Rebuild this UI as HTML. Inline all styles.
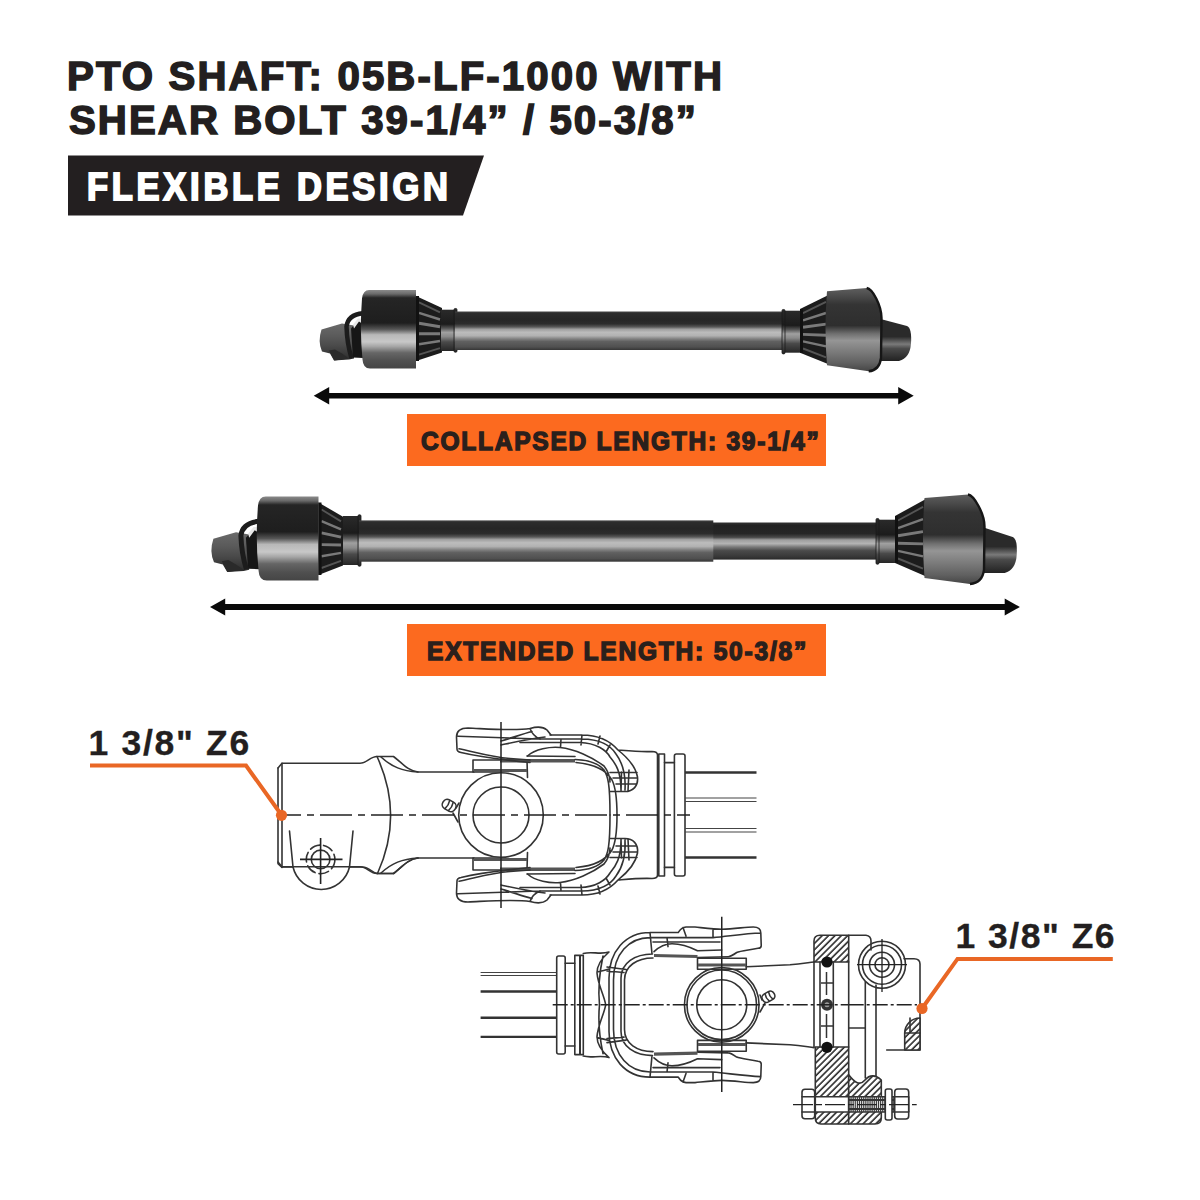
<!DOCTYPE html>
<html><head><meta charset="utf-8">
<style>
html,body{margin:0;padding:0;background:#fff;}
body{width:1200px;height:1200px;position:relative;overflow:hidden;font-family:"Liberation Sans",sans-serif;}
.t{position:absolute;white-space:nowrap;font-weight:bold;color:#231f20;line-height:1;}
#h1{left:67px;top:56.5px;font-size:40.2px;letter-spacing:2.12px;-webkit-text-stroke:1.5px #231f20;}
#h2{left:69px;top:101px;font-size:40.2px;letter-spacing:2.07px;-webkit-text-stroke:1.5px #231f20;}
#btext{left:86.5px;top:166.5px;font-size:39.19px;letter-spacing:4.26px;color:#fff;-webkit-text-stroke:2px #fff;transform:scaleX(0.88);transform-origin:0 0;}
.lab{position:absolute;background:#fc6a1f;}
.lt{color:#2a201c;font-size:25.31px;-webkit-text-stroke:1.4px #2a201c;transform:scaleX(0.97);transform-origin:0 0;}
.zt{font-size:35.5px;-webkit-text-stroke:0.3px #231f20;}
svg{position:absolute;left:0;top:0;}
</style></head><body>
<svg width="1200" height="1200" viewBox="0 0 1200 1200"><defs>
<linearGradient id="gTube" x1="0" y1="0" x2="0" y2="1">
 <stop offset="0" stop-color="#444"/><stop offset="0.05" stop-color="#2c2c2c"/>
 <stop offset="0.2" stop-color="#262626"/><stop offset="0.32" stop-color="#2c2c2c"/>
 <stop offset="0.4" stop-color="#585858"/><stop offset="0.46" stop-color="#9e9e9e"/>
 <stop offset="0.54" stop-color="#bcbcbc"/><stop offset="0.63" stop-color="#b2b2b2"/>
 <stop offset="0.71" stop-color="#828282"/><stop offset="0.78" stop-color="#606060"/>
 <stop offset="0.92" stop-color="#505050"/><stop offset="1" stop-color="#363636"/>
</linearGradient>
<linearGradient id="gTube2" x1="0" y1="0" x2="0" y2="1">
 <stop offset="0" stop-color="#333"/><stop offset="0.08" stop-color="#222"/>
 <stop offset="0.3" stop-color="#262626"/><stop offset="0.4" stop-color="#4a4a4a"/>
 <stop offset="0.47" stop-color="#9e9e9e"/><stop offset="0.57" stop-color="#b4b4b4"/>
 <stop offset="0.66" stop-color="#7a7a7a"/><stop offset="0.76" stop-color="#4a4a4a"/>
 <stop offset="0.9" stop-color="#3a3a3a"/><stop offset="1" stop-color="#2a2a2a"/>
</linearGradient>
<linearGradient id="gBell" x1="0" y1="0" x2="0" y2="1">
 <stop offset="0" stop-color="#8a8a8a"/><stop offset="0.05" stop-color="#6a6a6a"/>
 <stop offset="0.1" stop-color="#252525"/><stop offset="0.42" stop-color="#1e1e1e"/>
 <stop offset="0.5" stop-color="#555"/><stop offset="0.57" stop-color="#b8b8b8"/>
 <stop offset="0.66" stop-color="#c8c8c8"/><stop offset="0.72" stop-color="#a5a5a5"/>
 <stop offset="0.8" stop-color="#666"/><stop offset="0.9" stop-color="#505050"/>
 <stop offset="1" stop-color="#454545"/>
</linearGradient>
<linearGradient id="gBellR" x1="0" y1="0" x2="0" y2="1">
 <stop offset="0" stop-color="#5e5e5e"/><stop offset="0.1" stop-color="#4a4a4a"/>
 <stop offset="0.2" stop-color="#343434"/><stop offset="0.45" stop-color="#2e2e2e"/>
 <stop offset="0.55" stop-color="#707070"/><stop offset="0.63" stop-color="#959595"/>
 <stop offset="0.75" stop-color="#7e7e7e"/><stop offset="0.9" stop-color="#606060"/>
 <stop offset="1" stop-color="#454545"/>
</linearGradient>
<linearGradient id="gCone" x1="0" y1="0" x2="0" y2="1">
 <stop offset="0" stop-color="#1e1e1e"/><stop offset="0.4" stop-color="#262626"/>
 <stop offset="0.6" stop-color="#3a3a3a"/><stop offset="1" stop-color="#1e1e1e"/>
</linearGradient>
<linearGradient id="gCollar" x1="0" y1="0" x2="0" y2="1">
 <stop offset="0" stop-color="#2a2a2a"/><stop offset="0.35" stop-color="#1c1c1c"/>
 <stop offset="0.45" stop-color="#555"/><stop offset="0.55" stop-color="#a0a0a0"/>
 <stop offset="0.65" stop-color="#8a8a8a"/><stop offset="0.78" stop-color="#4a4a4a"/>
 <stop offset="1" stop-color="#262626"/>
</linearGradient>
<linearGradient id="gStub" x1="0" y1="0" x2="0" y2="1">
 <stop offset="0" stop-color="#6a6a6a"/><stop offset="0.35" stop-color="#5a5a5a"/>
 <stop offset="0.6" stop-color="#4a4a4a"/><stop offset="1" stop-color="#2a2a2a"/>
</linearGradient>
<linearGradient id="gStubR" x1="0" y1="0" x2="0" y2="1">
 <stop offset="0" stop-color="#2a2a2a"/><stop offset="0.45" stop-color="#2a2a2a"/>
 <stop offset="0.62" stop-color="#7a7a7a"/><stop offset="0.72" stop-color="#4a4a4a"/>
 <stop offset="1" stop-color="#222"/>
</linearGradient>

<pattern id="hatch" patternUnits="userSpaceOnUse" width="4.5" height="4.5" patternTransform="rotate(45)">
  <rect width="4.5" height="4.5" fill="#fff"/><line x1="1" y1="0" x2="1" y2="4.5" stroke="#2a2a2a" stroke-width="1.6"/>
</pattern>
</defs><polygon points="68,155.5 484,155.5 463,215.5 68,215.5" fill="#231f20"/><path d="M313.7,395.8 L329.2,387.0 L329.2,393.1 L898.2,393.1 L898.2,387.0 L913.7,395.8 L898.2,404.6 L898.2,398.5 L329.2,398.5 L329.2,404.6 Z" fill="#0a0a0a"/><path d="M210,607 L225.2,598.5 L225.2,604.1 L1004.6999999999999,604.1 L1004.6999999999999,598.5 L1019.9,607 L1004.6999999999999,615.5 L1004.6999999999999,609.9 L225.2,609.9 L225.2,615.5 Z" fill="#0a0a0a"/><path d="M321.5,329.5 Q317.5,341.5 322,351.5 L330,353.5 L334,360.6 L349,359.5 L354,358.5 L354,325.5 L342,323.5 Z" fill="url(#gStub)"/><path d="M329,350.5 L334.4,360.6 L349,358.5 L342,353.5 L335,349.5 Z" fill="#2a2a2a"/><path d="M351,328.5 L358,320.5 L363,320.5 L363,358 L353,357.5 Z" fill="#161616"/><path d="M353,324.5 L358,318.5 L362,318.5 L362,323.5 L359,321.5 L354,328.5 Z" fill="#e8e8e8"/><path d="M363,313.2 Q348,314.5 346.5,326.5 Q347,343.5 351.5,358" stroke="#1c1c1c" stroke-width="4.5" fill="none"/><path d="M369,290 L416,290 L416,368.5 L370,368.5 Q363,368.5 362.5,359.5 Q359.5,329.5 362,298.5 Q363,290 369,290 Z" fill="url(#gBell)"/><path d="M416,296 L442,308 L442,352.5 L416,361 Z" fill="#1c1c1c"/><path d="M419,302.3 L440,312.3" stroke="#555" stroke-width="1.9"/><path d="M419,312.8 L440,319.5" stroke="#7a7a7a" stroke-width="2.4"/><path d="M419,323.3 L440,326.7" stroke="#7a7a7a" stroke-width="2.9"/><path d="M419,333.7 L440,333.8" stroke="#7a7a7a" stroke-width="2.9"/><path d="M419,344.2 L440,341" stroke="#7a7a7a" stroke-width="2.4"/><path d="M419,354.7 L440,348.2" stroke="#555" stroke-width="1.9"/><path d="M417.5,296 L417.5,361" stroke="#111" stroke-width="3"/><rect x="441" y="309.7" width="15" height="41.3" fill="url(#gCollar)"/><rect x="454" y="308.5" width="3" height="43.7" rx="1.2" fill="url(#gCollar)" stroke="#1a1a1a" stroke-width="0.8"/><rect x="455" y="311.5" width="330" height="38.5" fill="url(#gTube)"/><rect x="783" y="310.7" width="17" height="42" fill="url(#gCollar)"/><rect x="782" y="309.5" width="3" height="44.4" rx="1.2" fill="url(#gCollar)" stroke="#1a1a1a" stroke-width="0.8"/><path d="M872,316.7 L907,326 Q912,328 911,343.5 Q910,358 899,361 L872,361 Z" fill="url(#gStubR)"/><path d="M872,321.1 L880,330 L878,349.9 L872,356.6 Z" fill="#141414"/><path d="M800,309 L828,295.3 L828,364 L800,352.7 Z" fill="#1c1c1c"/><path d="M803,313.2 L826,301.9" stroke="#555" stroke-width="1.9"/><path d="M803,320.3 L826,313" stroke="#7a7a7a" stroke-width="2.4"/><path d="M803,327.3 L826,324.1" stroke="#7a7a7a" stroke-width="2.9"/><path d="M803,334.4 L826,335.2" stroke="#7a7a7a" stroke-width="2.9"/><path d="M803,341.4 L826,346.3" stroke="#7a7a7a" stroke-width="2.4"/><path d="M803,348.5 L826,357.4" stroke="#555" stroke-width="1.9"/><path d="M801.5,309 L801.5,352.7" stroke="#111" stroke-width="3"/><path d="M827,291.3 L866.7,288 C872.7,289 881.5,305.5 881.5,318 L881,358 Q879.5,370.3 868.7,371.3 L827,365.3 Q824,328.3 827,291.3 Z" fill="url(#gBellR)"/><path d="M866.7,288 C872.7,289 881.5,305.5 881.5,318 L881,358 Q879.5,370.3 868.7,371.3" stroke="#161616" stroke-width="2.4" fill="none"/><path d="M213.4,538.8 Q209.1,551.6 214,562.3 L222.8,564.4 L227.2,572 L243.7,570.9 L249.2,569.8 L249.2,534.5 L236,532.3 Z" fill="url(#gStub)"/><path d="M221.7,561.2 L227.6,572 L243.7,569.8 L236,564.4 L228.3,560.1 Z" fill="#2a2a2a"/><path d="M245.9,537.7 L253.6,529.1 L259.1,529.1 L259.1,569.2 L248.1,568.7 Z" fill="#161616"/><path d="M248.1,533.4 L253.6,527 L258,527 L258,532.3 L254.7,530.2 L249.2,537.7 Z" fill="#e8e8e8"/><path d="M259.1,521.3 Q242.6,522.7 240.9,535.5 Q241.5,553.7 246.4,569.2" stroke="#1c1c1c" stroke-width="5" fill="none"/><path d="M265.7,496.5 L318.5,496.5 L318.5,580.5 L266.8,580.5 Q259.1,580.5 258.6,570.9 Q255.2,538.8 258,505.6 Q259.1,496.5 265.7,496.5 Z" fill="url(#gBell)"/><path d="M318.5,502.5 L343,516.7 L343,565.5 L318.5,575 Z" fill="#1c1c1c"/><path d="M321.5,509.5 L341,521.4" stroke="#555" stroke-width="1.9"/><path d="M321.5,521.2 L341,529.3" stroke="#7a7a7a" stroke-width="2.4"/><path d="M321.5,532.9 L341,537.2" stroke="#7a7a7a" stroke-width="2.9"/><path d="M321.5,544.6 L341,545" stroke="#7a7a7a" stroke-width="2.9"/><path d="M321.5,556.3 L341,552.9" stroke="#7a7a7a" stroke-width="2.4"/><path d="M321.5,568 L341,560.8" stroke="#555" stroke-width="1.9"/><path d="M320,502.5 L320,575" stroke="#111" stroke-width="3"/><rect x="343" y="516" width="17" height="49" fill="url(#gCollar)"/><rect x="358" y="514.8" width="3" height="51.4" rx="1.2" fill="url(#gCollar)" stroke="#1a1a1a" stroke-width="0.8"/><rect x="713" y="522.5" width="165" height="37.1" fill="url(#gTube2)"/><rect x="359" y="520.4" width="354.3" height="41.3" fill="url(#gTube)"/><rect x="877" y="519.7" width="18" height="43.3" fill="url(#gCollar)"/><rect x="876" y="518.5" width="3" height="45.7" rx="1.2" fill="url(#gCollar)" stroke="#1a1a1a" stroke-width="0.8"/><path d="M976,525 L1012.7,537 Q1017.7,539 1016.7,555 Q1015.7,570 1004.7,573 L976,573 Z" fill="url(#gStubR)"/><path d="M976,529.8 L984,539.4 L982,561 L976,568.2 Z" fill="#141414"/><path d="M895,516 L925,499.5 L925,576 L895,563 Z" fill="#1c1c1c"/><path d="M898,520.5 L923,506.9" stroke="#555" stroke-width="1.9"/><path d="M898,528.1 L923,519.2" stroke="#7a7a7a" stroke-width="2.4"/><path d="M898,535.7 L923,531.6" stroke="#7a7a7a" stroke-width="2.9"/><path d="M898,543.3 L923,543.9" stroke="#7a7a7a" stroke-width="2.9"/><path d="M898,550.9 L923,556.3" stroke="#7a7a7a" stroke-width="2.4"/><path d="M898,558.5 L923,568.6" stroke="#555" stroke-width="1.9"/><path d="M896.5,516 L896.5,563" stroke="#111" stroke-width="3"/><path d="M924.5,498 L968,494.5 C974,495.5 984.5,513.3 984.5,526.7 L984,569.7 Q982.5,583 970,584 L924.5,578 Q921.5,538 924.5,498 Z" fill="url(#gBellR)"/><path d="M968,494.5 C974,495.5 984.5,513.3 984.5,526.7 L984,569.7 Q982.5,583 970,584" stroke="#161616" stroke-width="2.4" fill="none"/><g><path d="M278,768 L282,763.3 L360,763.3 C367,763.3 370,756.5 377,756.5 L393.5,756.5 C402,763 408,771 418,772 L474,772" stroke="#333" stroke-width="1.6" fill="none" stroke-linecap="round" stroke-linejoin="round" /><path d="M 278,862 L 282,866.7 L 360,866.7 C 367,866.7 370,873.5 377,873.5 L 393.5,873.5 C 402,867 408,859 418,858 L 474,858" stroke="#333" stroke-width="1.6" fill="none" stroke-linecap="round" stroke-linejoin="round" /><path d="M278,768 L278,863.7 L282,867.5" stroke="#333" stroke-width="1.6" fill="none" stroke-linecap="round" stroke-linejoin="round" /><path d="M282,763.3 L282,867" stroke="#333" stroke-width="1.6" fill="none" stroke-linecap="round" stroke-linejoin="round" /><path d="M377,756.5 Q404,815 377.5,873.5" stroke="#333" stroke-width="1.6" fill="none" stroke-linecap="round" stroke-linejoin="round" /><path d="M381,757 C392,767 402,771 418,772" stroke="#333" stroke-width="1.6" fill="none" stroke-linecap="round" stroke-linejoin="round" /><path d="M381,873 C392,863 402,859 418,858" stroke="#333" stroke-width="1.6" fill="none" stroke-linecap="round" stroke-linejoin="round" /><path d="M289.5,831 L293,867" stroke="#333" stroke-width="1.6" fill="none" stroke-linecap="round" stroke-linejoin="round" /><path d="M353,831 L349.5,867" stroke="#333" stroke-width="1.6" fill="none" stroke-linecap="round" stroke-linejoin="round" /><path d="M293,867 A29,29 0 0 0 349.5,867" stroke="#333" stroke-width="1.6" fill="none" stroke-linecap="round" stroke-linejoin="round" /><path d="M282,867 L293,867" stroke="#333" stroke-width="1.6" fill="none" stroke-linecap="round" stroke-linejoin="round" /><path d="M349.5,867 L362.5,867 C370,867 372,873.5 377.5,873.5 L393.7,873.5" stroke="#333" stroke-width="1.6" fill="none" stroke-linecap="round" stroke-linejoin="round" /><path d="M393.7,873.5 C402,867 408,859 418,858" stroke="#333" stroke-width="1.6" fill="none" stroke-linecap="round" stroke-linejoin="round" /><circle cx="320.6" cy="859.4" r="9.3" stroke="#333" stroke-width="1.6" fill="none" stroke-linecap="round" stroke-linejoin="round"/><circle cx="320.6" cy="859.4" r="14.3" stroke="#333" stroke-width="1.6" fill="none" stroke-linecap="round" stroke-linejoin="round" stroke-dasharray="10,4"/><path d="M300,859.4 L342.5,859.4 M320.6,838 L320.6,884" stroke="#222" stroke-width="1.6"/><circle cx="501" cy="815" r="42.3" stroke="#333" stroke-width="1.6" fill="none" stroke-linecap="round" stroke-linejoin="round"/><circle cx="501" cy="815" r="28" stroke="#333" stroke-width="1.6" fill="none" stroke-linecap="round" stroke-linejoin="round"/><g transform="translate(450,806) rotate(30)"><rect x="-8" y="-5" width="14" height="10" rx="4.5" stroke="#333" stroke-width="1.6" fill="none" stroke-linecap="round" stroke-linejoin="round"/><path d="M-3,-4.5 Q-1.5,0 -3,4.5 M1,-4.5 Q2.5,0 1,4.5" stroke="#333" stroke-width="1.6" fill="none" stroke-linecap="round" stroke-linejoin="round"/></g><path d="M453,813 L458,822 M456,808 L459,803" stroke="#333" stroke-width="1.6" fill="none" stroke-linecap="round" stroke-linejoin="round" /><path d="M473,772 L473,760 L527,760 L527.5,777.5 M473,772 L500,772" stroke="#333" stroke-width="1.6" fill="none" stroke-linecap="round" stroke-linejoin="round" /><path d="M 473,858 L 473,870 L 527,870 L 527.5,852.5 M 473,858 L 500,858" stroke="#333" stroke-width="1.6" fill="none" stroke-linecap="round" stroke-linejoin="round" /><path d="M474,770.5 L527,770.5 M474,859.5 L527,859.5" stroke="#555" stroke-width="3"/><path d="M500,760.8 L575,760.8 M500,869.2 L575,869.2" stroke="#555" stroke-width="3.5"/><path d="M551,735 L547,730 C543,726.5 537,726.5 530,728.5 C515,731 490,729 468,728 C460,728 456.5,731 456.5,737 L457,749 C457,751 458,752 461,752.5 C480,757 505,760 530,762.5 M458,736.3 C480,737 510,738 540,739 M459,748.8 C475,752 490,757 510,758.5 L530,760 M530,728.5 C532,734 535,737 540,739 M501,741 C512,738 522,734 532,731.5 M501,745 C515,742 528,739 545,737 M527,756 L575,756.5 " stroke="#333" stroke-width="1.6" fill="none" stroke-linecap="round" stroke-linejoin="round" /><path d="M 551,895 L 547,900 C 543,903.5 537,903.5 530,901.5 C 515,899 490,901 468,902 C 460,902 456.5,899 456.5,893 L 457,881 C 457,879 458,878 461,877.5 C 480,873 505,870 530,867.5 M 458,893.7 C 480,893 510,892 540,891 M 459,881.2 C 475,878 490,873 510,871.5 L 530,870 M 530,901.5 C 532,896 535,893 540,891 M 501,889 C 512,892 522,896 532,898.5 M 501,885 C 515,888 528,891 545,893 M 527,874 L 575,873.5" stroke="#333" stroke-width="1.6" fill="none" stroke-linecap="round" stroke-linejoin="round" /><path d="M550,735 L582,735 C600,735 611,742 618,750 C628,758 636,768 637.5,777 C638.5,786 633,791.5 625,791.5 L610,791.5 M540,739 L582,739 C600,739 611,746 616,754 C622,762 626,772 625,790 M520,742.5 L580,742.5 C596,743 606,750 610,757 C616,764 621,772 621,790 M527.5,756 C535,749 550,746.5 560,747.5 C575,749 592,757 604,766 C608,771 610,777 610,782 M575,759.5 C590,760 599,764 604,770 C608,776 610,784 610,815 M576,762.5 C594,764 606,770 612,780 C616,788 617,800 617,815 M618,750 C630,751 640,752 652,751.5 C655,751.5 657.5,752 657.5,755 L657.5,815 M610,772.5 L637,772.5 M613,778 L637.5,778 M616,784 L636,784 M621.5,772 L621,791 M629,770 L628,791 M582,735 L581,745 M561,739 L560.5,747.5 M600,736 L598,744 M606,752 L610,745 " stroke="#333" stroke-width="1.6" fill="none" stroke-linecap="round" stroke-linejoin="round" /><path d="M 550,895 L 582,895 C 600,895 611,888 618,880 C 628,872 636,862 637.5,853 C 638.5,844 633,838.5 625,838.5 L 610,838.5 M 540,891 L 582,891 C 600,891 611,884 616,876 C 622,868 626,858 625,840 M 520,887.5 L 580,887.5 C 596,887 606,880 610,873 C 616,866 621,858 621,840 M 527.5,874 C 535,881 550,883.5 560,882.5 C 575,881 592,873 604,864 C 608,859 610,853 610,848 M 575,870.5 C 590,870 599,866 604,860 C 608,854 610,846 610,815 M 576,867.5 C 594,866 606,860 612,850 C 616,842 617,830 617,815 M 618,880 C 630,879 640,878 652,878.5 C 655,878.5 657.5,878 657.5,875 L 657.5,815 M 610,857.5 L 637,857.5 M 613,852 L 637.5,852 M 616,846 L 636,846 M 621.5,858 L 621,839 M 629,860 L 628,839 M 582,895 L 581,885 M 561,891 L 560.5,882.5 M 600,894 L 598,886 M 606,878 L 610,885" stroke="#333" stroke-width="1.6" fill="none" stroke-linecap="round" stroke-linejoin="round" /><path d="M658.8,754 L664.5,754 L664.5,876 L658.8,876 Z" stroke="#333" stroke-width="1.6" fill="none" stroke-linecap="round" stroke-linejoin="round" /><path d="M664.5,762.6 L674.4,762.6 M664.5,867.4 L674.4,867.4" stroke="#333" stroke-width="1.6" fill="none" stroke-linecap="round" stroke-linejoin="round" /><rect x="674.4" y="754" width="10.6" height="122" rx="2" stroke="#333" stroke-width="1.6" fill="none" stroke-linecap="round" stroke-linejoin="round"/><path d="M685,772.5 L756.5,772.5 M685,857.5 L756.5,857.5" stroke="#333" stroke-width="2.4"/><path d="M685,798 L756.5,798 M685,801.5 L756.5,801.5 M685,828.5 L756.5,828.5 M685,832 L756.5,832" stroke="#444" stroke-width="1.2"/><path d="M286,815 L690,815" stroke="#222" stroke-width="1.4" fill="none" stroke-dasharray="32,6,7,6" stroke-dashoffset="17"/><path d="M501,722 L501,908" stroke="#222" stroke-width="1.5"/></g><g><path d="M480.6,991.5 L556.4,991.5 M480.6,1017.7 L556.4,1017.7 M480.6,1036.9 L556.4,1036.9" stroke="#333" stroke-width="2.4"/><path d="M480.6,972.5 L556.4,972.5 M480.6,975.5 L556.4,975.5" stroke="#444" stroke-width="1.2"/><rect x="556.7" y="956" width="8.5" height="98" rx="2" stroke="#333" stroke-width="1.6" fill="none" stroke-linecap="round" stroke-linejoin="round"/><path d="M565.2,963.2 L574.8,963.2 M565.2,1046 L574.8,1046" stroke="#333" stroke-width="1.6" fill="none" stroke-linecap="round" stroke-linejoin="round" /><path d="M574.8,955.4 L583.3,955.4 L583.3,1054.6 L574.8,1054.6 Z" stroke="#333" stroke-width="1.6" fill="none" stroke-linecap="round" stroke-linejoin="round" /><path d="M580,956 L580,1054" stroke="#333" stroke-width="2"/><path d="M583.3,953.5 C592,951 600,955 609,952 C602,958 597,966 597,973 C598,985 604,995 605.7,1004.8 M603,956 C600,970 598,990 599.5,1004.8 M597,972 C602,971 606,970 609,969" stroke="#333" stroke-width="1.6" fill="none" stroke-linecap="round" stroke-linejoin="round" /><path d="M 583.3,1056.1 C 592,1058.6 600,1054.6 609,1057.6 C 602,1051.6 597,1043.6 597,1036.6 C 598,1024.6 604,1014.6 605.7,1004.8 M 603,1053.6 C 600,1039.6 598,1019.6 599.5,1004.8 M 597,1037.6 C 602,1038.6 606,1039.6 609,1040.6" stroke="#333" stroke-width="1.6" fill="none" stroke-linecap="round" stroke-linejoin="round" /><path d="M609,1004.8 L609,978 C609,952 625,932.5 650,932.5 L678.3,932.5 C680,930 681,927.5 686,927 L695,927 C705,928 715,929.2 721.7,929.2 C735,929 745,927 753.3,927 C758,927 760.8,929 760.8,933 L761.25,945.8 C761,947.5 760,948.3 758,948.3 C750,950 740,951 736.7,952.5 C733,955 730,956.7 728.3,956.7 L697.5,957.5 M613.5,1004.8 L613.5,980 C613.5,954 629,937.6 650,937.6 L713,937.6 C730,936 745,933.5 760.8,933 M653,942 L720,942 M654,951.7 C660,946 665,943.8 672,943.8 C683,943.8 690,947 697.5,950.8 L721.7,950 M621,1004.8 L621,978 C621,963 635,954 652.5,954 M624.5,1004.8 L624.5,980 C624.5,966 637,958 653,958 M607,967 L626,969.5 M607,971 L624,972.5 M650,932.5 L652,954 M667,937.6 L668,946.7 M683,927.5 L686,936 M713,929.5 L713,937.6 " stroke="#333" stroke-width="1.6" fill="none" stroke-linecap="round" stroke-linejoin="round" /><path d="M 609,1004.8 L 609,1031.6 C 609,1057.6 625,1077.1 650,1077.1 L 678.3,1077.1 C 680,1079.6 681,1082.1 686,1082.6 L 695,1082.6 C 705,1081.6 715,1080.4 721.7,1080.4 C 735,1080.6 745,1082.6 753.3,1082.6 C 758,1082.6 760.8,1080.6 760.8,1076.6 L 761.25,1063.8 C 761,1062.1 760,1061.3 758,1061.3 C 750,1059.6 740,1058.6 736.7,1057.1 C 733,1054.6 730,1052.9 728.3,1052.9 L 697.5,1052.1 M 613.5,1004.8 L 613.5,1029.6 C 613.5,1055.6 629,1072 650,1072 L 713,1072 C 730,1073.6 745,1076.1 760.8,1076.6 M 653,1067.6 L 720,1067.6 M 654,1057.9 C 660,1063.6 665,1065.8 672,1065.8 C 683,1065.8 690,1062.6 697.5,1058.8 L 721.7,1059.6 M 621,1004.8 L 621,1031.6 C 621,1046.6 635,1055.6 652.5,1055.6 M 624.5,1004.8 L 624.5,1029.6 C 624.5,1043.6 637,1051.6 653,1051.6 M 607,1042.6 L 626,1040.1 M 607,1038.6 L 624,1037.1 M 650,1077.1 L 652,1055.6 M 667,1072 L 668,1062.9 M 683,1082.1 L 686,1073.6 M 713,1080.1 L 713,1072" stroke="#333" stroke-width="1.6" fill="none" stroke-linecap="round" stroke-linejoin="round" /><path d="M654,955.5 L697.5,956.5 M654,1054.1 L697.5,1053.1" stroke="#555" stroke-width="3.2"/><circle cx="721.75" cy="1004.8" r="37.3" stroke="#333" stroke-width="1.6" fill="none" stroke-linecap="round" stroke-linejoin="round"/><circle cx="721.75" cy="1004.8" r="34.8" stroke="#333" stroke-width="1.6" fill="none" stroke-linecap="round" stroke-linejoin="round"/><circle cx="721.75" cy="1004.8" r="25" stroke="#333" stroke-width="1.6" fill="none" stroke-linecap="round" stroke-linejoin="round"/><path d="M697.5,969.2 L697.5,958.3 L746.25,958.3 L746.25,969.2 L697.5,969.2" stroke="#333" stroke-width="1.6" fill="none" stroke-linecap="round" stroke-linejoin="round" /><path d="M 697.5,1040.4 L 697.5,1051.3 L 746.25,1051.3 L 746.25,1040.4 L 697.5,1040.4" stroke="#333" stroke-width="1.6" fill="none" stroke-linecap="round" stroke-linejoin="round" /><path d="M698,965 L746,965 M698,1044.6 L746,1044.6" stroke="#555" stroke-width="3"/><path d="M746.25,966.7 L790,964.8 C800,964 806,963 814,962" stroke="#333" stroke-width="1.6" fill="none" stroke-linecap="round" stroke-linejoin="round" /><path d="M 746.25,1042.9 L 790,1044.8 C 800,1045.6 806,1046.6 814,1047.6" stroke="#333" stroke-width="1.6" fill="none" stroke-linecap="round" stroke-linejoin="round" /><g transform="translate(768,997) rotate(-30)"><rect x="-6" y="-4.5" width="13" height="9" rx="4" stroke="#333" stroke-width="1.6" fill="none" stroke-linecap="round" stroke-linejoin="round"/><path d="M3,-4 Q1.5,0 3,4 M-1,-4 Q-2.5,0 -1,4" stroke="#333" stroke-width="1.6" fill="none" stroke-linecap="round" stroke-linejoin="round"/></g><path d="M765,1003 L760,1012 M762,1000 L760,995" stroke="#333" stroke-width="1.6" fill="none" stroke-linecap="round" stroke-linejoin="round" /><path d="M814,962 L814,941 Q814,935.3 820,935.3 L848.7,935.3 L848.7,962 Z" fill="url(#hatch)" stroke="#333" stroke-width="1.6" fill="none" stroke-linecap="round" stroke-linejoin="round"/><path d="M815.3,1047 L815.3,1118 Q815.3,1124 821,1124 L848.7,1124 L848.7,1047 Z" fill="url(#hatch)" stroke="#333" stroke-width="1.6" fill="none" stroke-linecap="round" stroke-linejoin="round"/><path d="M848.7,1124 L875,1124 Q881.3,1124 881.3,1118 L881.3,1080 C876,1075 870,1074 865,1080 C860,1086 855,1083 848.7,1074.7 Z" fill="url(#hatch)" stroke="#333" stroke-width="1.6" fill="none" stroke-linecap="round" stroke-linejoin="round"/><path d="M814,962 L814,1047" stroke="#333" stroke-width="1.6" fill="none" stroke-linecap="round" stroke-linejoin="round" /><path d="M820,962 L820,1047 M833.3,962 L833.3,1047 M848.7,962 L848.7,1047" stroke="#333" stroke-width="1.6" fill="none" stroke-linecap="round" stroke-linejoin="round" /><path d="M826.5,972 L826.5,995 M826.5,1014 L826.5,1038 M821,983 L833,983 M821,1026 L833,1026" stroke="#333" stroke-width="1.5"/><circle cx="827" cy="962" r="5.6" fill="#111"/><circle cx="827" cy="1047.3" r="5.6" fill="#111"/><circle cx="827" cy="1004.7" r="6" fill="#333"/><circle cx="827" cy="1004.7" r="2.5" fill="#999"/><path d="M848.7,935.3 L866,935.3 Q871,936 871,941 L871,950" stroke="#333" stroke-width="1.6" fill="none" stroke-linecap="round" stroke-linejoin="round" /><circle cx="882" cy="964.7" r="23.5" stroke="#333" stroke-width="1.6" fill="none" stroke-linecap="round" stroke-linejoin="round"/><circle cx="882" cy="964.7" r="19.5" stroke="#333" stroke-width="1.6" fill="none" stroke-linecap="round" stroke-linejoin="round"/><circle cx="882" cy="964.7" r="12.5" stroke="#333" stroke-width="1.6" fill="none" stroke-linecap="round" stroke-linejoin="round"/><circle cx="882" cy="964.7" r="7" stroke="#333" stroke-width="1.6" fill="none" stroke-linecap="round" stroke-linejoin="round"/><path d="M857,964.7 L907,964.7 M882,939 L882,992" stroke="#222" stroke-width="1.3"/><path d="M904,958.7 L914,958.7 Q920,958.7 920,964 L920,1050 L886.7,1050" stroke="#333" stroke-width="1.6" fill="none" stroke-linecap="round" stroke-linejoin="round" /><path d="M865.3,982 L865.3,1078 M876,985 L876,1076 M848.7,1028 L865,1028" stroke="#333" stroke-width="1.6" fill="none" stroke-linecap="round" stroke-linejoin="round" /><path d="M920,1018 A15.3,15.3 0 0 0 904.7,1033 L904.7,1050 L920,1050 Z" fill="url(#hatch)" stroke="#333" stroke-width="1.6" fill="none" stroke-linecap="round" stroke-linejoin="round"/><path d="M904.7,1033 L920,1033 M910,1018 L910,1033" stroke="#333" stroke-width="1.6" fill="none" stroke-linecap="round" stroke-linejoin="round" /><path d="M848.7,1004.8 L917,1004.8" stroke="#222" stroke-width="1.4" fill="none" stroke-dasharray="15,3,3,3"/><rect x="802" y="1089.3" width="12.7" height="29.4" rx="3" fill="#fff" stroke="#333" stroke-width="1.6" fill="none" stroke-linecap="round" stroke-linejoin="round"/><path d="M802,1096.7 L814.7,1096.7 M802,1112 L814.7,1112" stroke="#333" stroke-width="1.6" fill="none" stroke-linecap="round" stroke-linejoin="round" /><rect x="815.3" y="1096.7" width="33.4" height="15.3" fill="#fff" stroke="#333" stroke-width="1.6" fill="none" stroke-linecap="round" stroke-linejoin="round"/><rect x="848.7" y="1096.7" width="46" height="15.3" fill="#fff" stroke="#333" stroke-width="1.6" fill="none" stroke-linecap="round" stroke-linejoin="round"/><path d="M850.0,1097 L850.0,1112 M851.9,1097 L851.9,1112 M853.8,1097 L853.8,1112 M855.7,1097 L855.7,1112 M857.6,1097 L857.6,1112 M859.5,1097 L859.5,1112 M861.4,1097 L861.4,1112 M863.3,1097 L863.3,1112 M865.2,1097 L865.2,1112 M867.1,1097 L867.1,1112 M869.0,1097 L869.0,1112 M870.9,1097 L870.9,1112 M872.8,1097 L872.8,1112 M874.7,1097 L874.7,1112 M876.6,1097 L876.6,1112 M878.5,1097 L878.5,1112 M880.4,1097 L880.4,1112 M882.3,1097 L882.3,1112 M884.2,1097 L884.2,1112 M886.1,1097 L886.1,1112 M888.0,1097 L888.0,1112 M889.9,1097 L889.9,1112 M891.8,1097 L891.8,1112 M893.7,1097 L893.7,1112 M895.6,1097 L895.6,1112 M897.5,1097 L897.5,1112 M899.4,1097 L899.4,1112 M901.3,1097 L901.3,1112 M903.2,1097 L903.2,1112 M905.1,1097 L905.1,1112 M907.0,1097 L907.0,1112 M908.9,1097 L908.9,1112 " stroke="#3a3a3a" stroke-width="1.1"/><path d="M849,1100 L908,1100 M849,1109 L908,1109" stroke="#333" stroke-width="1.8"/><rect x="885.3" y="1089" width="6.7" height="31" rx="2" fill="#fff" stroke="#333" stroke-width="1.6" fill="none" stroke-linecap="round" stroke-linejoin="round"/><rect x="894.7" y="1089" width="14" height="30" rx="3" fill="#fff" stroke="#333" stroke-width="1.6" fill="none" stroke-linecap="round" stroke-linejoin="round"/><path d="M894.7,1096.7 L908.7,1096.7 M894.7,1112 L908.7,1112" stroke="#333" stroke-width="1.6" fill="none" stroke-linecap="round" stroke-linejoin="round" /><path d="M793,1104.7 L916.7,1104.7" stroke="#222" stroke-width="1.3" stroke-dasharray="20,3,6,3"/><path d="M552.7,1004.8 L848,1004.8" stroke="#222" stroke-width="1.4" fill="none" stroke-dasharray="15,3,3,3"/><path d="M721.75,916.75 L721.75,1092" stroke="#222" stroke-width="1.5"/></g><path d="M90,765.5 L246,765.5 L281.5,815" stroke="#e96725" stroke-width="4" fill="none" stroke-linejoin="miter"/><circle cx="281.5" cy="815.3" r="5.6" fill="#e96725"/><path d="M1112.8,958.9 L957.5,958.9 L922,1008.5" stroke="#e96725" stroke-width="4" fill="none"/><circle cx="922" cy="1008.5" r="5.6" fill="#e96725"/></svg><div class="t" id="h1">PTO SHAFT: 05B-LF-1000 WITH</div>
<div class="t" id="h2">SHEAR BOLT 39-1/4” / 50-3/8”</div>
<div class="t" id="btext">FLEXIBLE DESIGN</div>
<div class="lab" style="left:407px;top:414px;width:419px;height:52px;"></div>
<div class="lab" style="left:407px;top:624px;width:419px;height:52px;"></div>
<div class="t lt" id="l1" style="left:421px;top:428.7px;letter-spacing:1.8px;">COLLAPSED LENGTH: 39-1/4”</div>
<div class="t lt" id="l2" style="left:427px;top:638.8px;letter-spacing:1.84px;">EXTENDED LENGTH: 50-3/8”</div>
<div class="t zt" id="z1" style="left:88.6px;top:725.5px;letter-spacing:1.69px;">1 3/8" Z6</div>
<div class="t zt" id="z2" style="left:955.5px;top:918.9px;letter-spacing:1.5px;">1 3/8" Z6</div>
</body></html>
